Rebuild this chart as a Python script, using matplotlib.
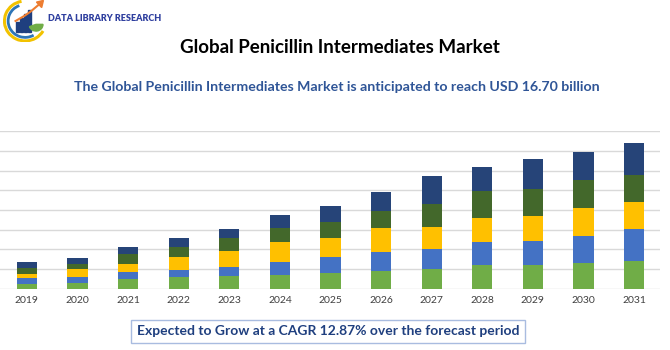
import matplotlib.pyplot as plt
from matplotlib.patches import Rectangle, Arc, Wedge, Polygon

# data (values in gridline units)
years = ['2019', '2020', '2021', '2022', '2023', '2024', '2025',
         '2026', '2027', '2028', '2029', '2030', '2031']
seg1 = [0.25, 0.31, 0.51, 0.58, 0.66, 0.69, 0.80, 0.90, 1.00, 1.19, 1.22, 1.31, 1.42]
seg2 = [0.29, 0.27, 0.36, 0.39, 0.44, 0.69, 0.81, 0.95, 1.00, 1.19, 1.20, 1.39, 1.59]
seg3 = [0.20, 0.41, 0.41, 0.63, 0.80, 0.98, 0.98, 1.22, 1.12, 1.22, 1.25, 1.42, 1.42]
seg4 = [0.31, 0.27, 0.49, 0.53, 0.68, 0.73, 0.81, 0.90, 1.19, 1.37, 1.39, 1.41, 1.37]
seg5 = [0.29, 0.31, 0.34, 0.46, 0.44, 0.66, 0.78, 0.95, 1.41, 1.19, 1.54, 1.41, 1.58]
colors = ['#70AD47', '#4472C4', '#FFC000', '#43682B', '#264478']

plt.rcParams['font.family'] = ['Lato', 'DejaVu Sans']

fig = plt.figure(figsize=(6.7, 3.5), dpi=100)
ax = fig.add_axes([0.0, 0.175, 0.985, 0.45])

x = range(len(years))
bottom = [0] * len(years)
for seg, c in zip([seg1, seg2, seg3, seg4, seg5], colors):
    ax.bar(x, seg, width=0.4, bottom=bottom, color=c, edgecolor='none', zorder=3)
    bottom = [b + s for b, s in zip(bottom, seg)]

ax.set_ylim(0, 8)
ax.set_xlim(-0.53, 12.51)
ax.set_yticks(range(0, 9))
ax.yaxis.grid(True, color='#d9d9d9', linewidth=1, zorder=0)
ax.tick_params(axis='y', left=False, labelleft=False)
ax.tick_params(axis='x', length=0, labelsize=7.5, labelcolor='#404040', pad=5)
ax.set_xticks(list(x))
ax.set_xticklabels(years)
for s in ax.spines.values():
    s.set_visible(False)

# titles
fig.text(0.507, 0.865, 'Global Penicillin Intermediates Market', ha='center', va='center',
         fontsize=13.5, fontweight='bold', color='black')
fig.text(0.503, 0.752, 'The Global Penicillin Intermediates Market is anticipated to reach USD 16.70 billion',
         ha='center', va='center', fontsize=10.2, fontweight='bold', color='#2F5597')

# bottom box
fig.text(0.49, 0.054, 'Expected to Grow at a CAGR 12.87% over the forecast period',
         ha='center', va='center', fontsize=10, fontweight='bold', color='#1F3F7F',
         bbox=dict(boxstyle='square,pad=0.4', facecolor='white', edgecolor='#A9BCE0', linewidth=1))

# logo
lax = fig.add_axes([0.005, 0.88, 0.065, 0.12])
lax.set_xlim(0, 1)
lax.set_ylim(0, 1)
lax.axis('off')
lax.add_patch(Arc((0.5, 0.5), 0.95, 0.95, theta1=100, theta2=330, color='#F2C200', linewidth=2.2))
lax.add_patch(Arc((0.5, 0.5), 0.78, 0.78, theta1=110, theta2=300, color='#2E75B6', linewidth=2))
for i, h in enumerate([0.22, 0.32, 0.42, 0.52]):
    lax.add_patch(Rectangle((0.3 + i * 0.09, 0.25), 0.065, h, color='#1F3F7F'))
lax.plot([0.28, 0.48, 0.62, 0.85], [0.5, 0.62, 0.72, 0.92], color='#ED7D31', linewidth=1.5)
lax.add_patch(Polygon([[0.92, 0.99], [0.76, 0.95], [0.88, 0.82]], color='#ED7D31'))
lax.add_patch(Wedge((0.75, 0.42), 0.16, 200, 360, color='#70AD47'))
fig.text(0.072, 0.948, 'DATA LIBRARY RESEARCH', ha='left', va='center', fontsize=6.5,
         fontweight='heavy', color='#2F3F9F')

fig.savefig('out.png', dpi=100)
